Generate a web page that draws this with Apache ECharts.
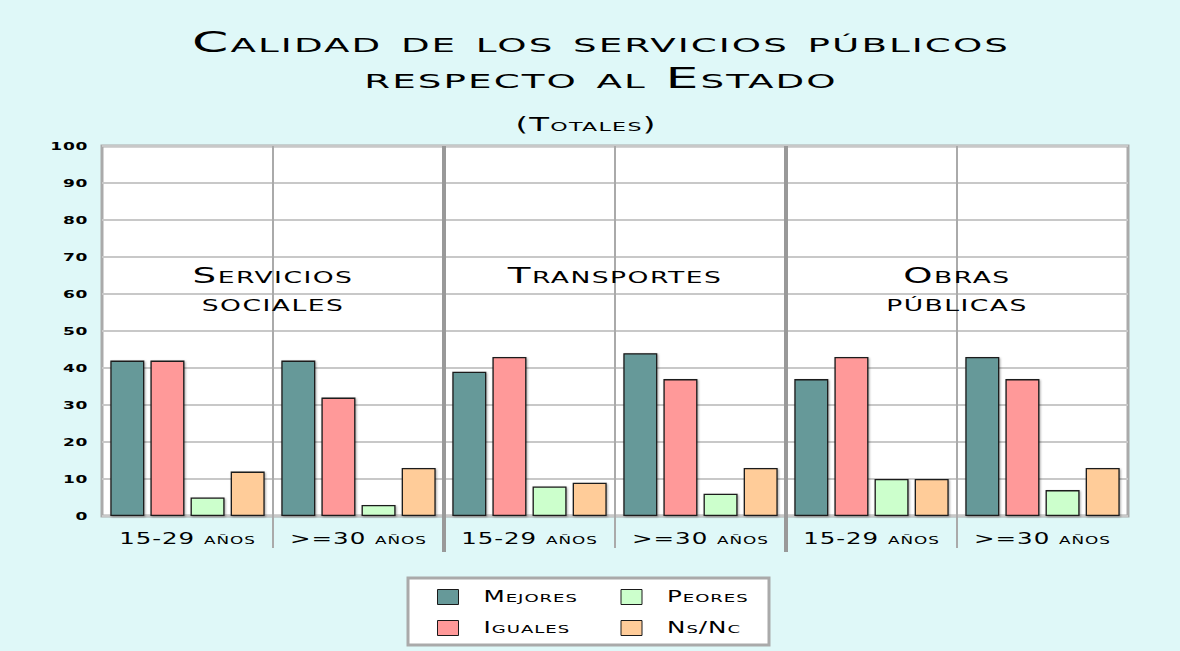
<!DOCTYPE html>
<html>
<head>
<meta charset="utf-8">
<script src="https://cdn.jsdelivr.net/npm/echarts@6/dist/echarts.min.js"></script>
<style>
  html, body { margin: 0; padding: 0; background: #dff8f8; }
  #chart { width: 1180px; height: 651px; }
  /* small-caps lettering for every label */
  #chart text { font-variant: small-caps !important; letter-spacing: 0.04em; }
</style>
</head>
<body>
<div id="chart"></div>
<script>
// Age bands, repeated once per service group
const categories = ['15-29 años', '>=30 años', '15-29 años', '>=30 años', '15-29 años', '>=30 años'];
// Service groups, each spanning two age bands
const groupNames = ['Servicios\nsociales', 'Transportes', 'Obras\npúblicas'];
const groupStart = [0, 2, 4];
const groupLabelLevel = 68.6;

// Answers (%)
const mejores = [42, 42, 39, 44, 37, 43];
const iguales = [42, 32, 43, 37, 43, 37];
const peores  = [5, 3, 8, 6, 10, 7];
const nsnc    = [12, 13, 9, 13, 10, 13];

const seriesNames = ['Mejores', 'Iguales', 'Peores', 'Ns/Nc'];
const legendOrder = ['Mejores', 'Peores', 'Iguales', 'Ns/Nc'];
const colors = ['#669999', '#ff9999', '#ccffcc', '#ffcc99'];

// Boundaries between age bands; even ones also separate service groups
const dividers = [1, 2, 3, 4, 5];

const yMin = 0, yMax = 100, yStep = 10;

const FONT = 'DejaVu Sans';

// horizontal widening of the lettering, keyed by font size
const widenBySize = { 28: 1.86, 19: 1.7, 21: 1.77, 16: 1.53, 15: 1.64, 11: 1.55 };

const chart = echarts.init(document.getElementById('chart'), null, { renderer: 'svg' });

function barSeries(name, data, color) {
  return {
    name: name,
    type: 'bar',
    data: data,
    barWidth: 34,
    barGap: '18%',
    itemStyle: {
      color: color,
      borderColor: '#1a1a1a',
      borderWidth: 1.3,
      shadowColor: 'rgba(0,0,0,0.35)',
      shadowBlur: 2,
      shadowOffsetX: 1,
      shadowOffsetY: 1
    }
  };
}

function legendItem(name, textWidth) {
  return { name: name, textStyle: { width: textWidth } };
}

const option = {
  backgroundColor: '#dff8f8',
  animation: false,
  title: [
    {
      text: 'Calidad de los servicios públicos\nrespecto al Estado',
      left: 601,
      textAlign: 'center',
      top: 24,
      padding: 0,
      textStyle: { fontFamily: FONT, fontSize: 28, fontWeight: 'normal', lineHeight: 36, color: '#000' }
    },
    {
      text: '(Totales)',
      left: 586,
      textAlign: 'center',
      top: 112,
      padding: 0,
      textStyle: { fontFamily: FONT, fontSize: 19, fontWeight: 'normal', lineHeight: 24, color: '#000' }
    }
  ],
  legend: {
    data: [
      legendItem(legendOrder[0], 122),
      legendItem(legendOrder[1], 90),
      legendItem(legendOrder[2], 122),
      legendItem(legendOrder[3], 90)
    ],
    left: 408,
    top: 578,
    width: 330,
    orient: 'horizontal',
    itemWidth: 21,
    itemHeight: 15,
    itemGap: 15,
    padding: [11, 12, 9, 29],
    backgroundColor: '#ffffff',
    borderColor: '#aaaaaa',
    borderWidth: 3,
    borderRadius: 0,
    icon: 'rect',
    itemStyle: { borderColor: '#1a1a1a', borderWidth: 1 },
    textStyle: {
      fontFamily: FONT, fontSize: 15, fontWeight: 'normal', color: '#000',
      width: 122, height: 16, lineHeight: 16, padding: [0, 0, 0, 20],
      backgroundColor: 'rgba(255,255,255,0)'
    }
  },
  grid: {
    left: 102,
    right: 52,
    top: 146,
    bottom: 135,
    show: true,
    backgroundColor: '#ffffff',
    borderColor: '#aaaaaa',
    borderWidth: 3
  },
  xAxis: {
    type: 'category',
    data: categories,
    axisLine: { show: false },
    axisTick: { show: false },
    splitLine: { show: false },
    axisLabel: { fontFamily: FONT, fontSize: 16, color: '#000', margin: 14 }
  },
  yAxis: {
    type: 'value',
    min: yMin,
    max: yMax,
    interval: yStep,
    axisLine: { show: false },
    axisTick: { show: false },
    splitLine: { lineStyle: { color: '#c8c8c8', width: 2 } },
    axisLabel: { fontFamily: FONT, fontSize: 11, fontWeight: 'bold', color: '#000', margin: 14 }
  },
  series: [
    barSeries(seriesNames[0], mejores, colors[0]),
    barSeries(seriesNames[1], iguales, colors[1]),
    barSeries(seriesNames[2], peores, colors[2]),
    barSeries(seriesNames[3], nsnc, colors[3]),
    {
      // vertical separators between age bands and service groups
      type: 'custom',
      name: 'dividers',
      silent: true,
      clip: false,
      z: 3,
      data: dividers.map(function (d) { return [d, 0]; }),
      renderItem: function (params, api) {
        const b = api.value(0);
        const bw = api.size([1, 0])[0];
        const x = api.coord([b, 0])[0] - bw / 2;
        const cs = params.coordSys;
        const major = b % 2 === 0;
        return {
          type: 'line',
          shape: { x1: x, y1: cs.y, x2: x, y2: cs.y + cs.height + (major ? 36 : 32) },
          style: { stroke: major ? '#999999' : '#aaaaaa', lineWidth: major ? 4 : 2 }
        };
      }
    },
    {
      // service group names inside the plot, hanging from a common top line
      type: 'custom',
      name: 'groups',
      silent: true,
      z: 4,
      data: groupStart.map(function (g) { return [g, groupLabelLevel]; }),
      renderItem: function (params, api) {
        const g = api.value(0);
        const p0 = api.coord([g, api.value(1)]);
        const p1 = api.coord([g + 1, api.value(1)]);
        return {
          type: 'text',
          x: (p0[0] + p1[0]) / 2,
          y: p0[1],
          style: {
            text: groupNames[params.dataIndex],
            align: 'center',
            verticalAlign: 'top',
            fontFamily: FONT,
            fontSize: 21,
            fontWeight: 'normal',
            lineHeight: 28,
            fill: '#000'
          }
        };
      }
    }
  ]
};

// widen the rendered lettering once the SVG is in place
let widened = false;
chart.on('finished', function () {
  if (widened) return;
  widened = true;
  document.querySelectorAll('#chart svg text').forEach(function (t) {
    const size = Math.round(parseFloat(getComputedStyle(t).fontSize));
    const k = widenBySize[size] || 1;
    const len = t.getComputedTextLength();
    if (len > 0 && k !== 1) {
      t.setAttribute('textLength', (len * k).toFixed(1));
      t.setAttribute('lengthAdjust', 'spacingAndGlyphs');
    }
  });
});

chart.setOption(option);
</script>
</body>
</html>
